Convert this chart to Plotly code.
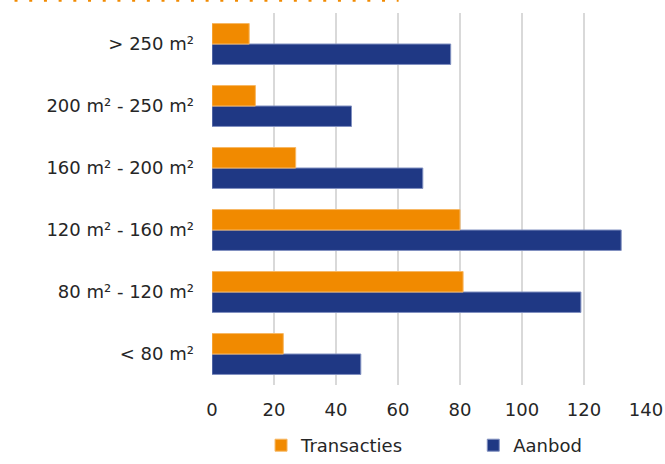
import plotly.graph_objects as go

categories = ["< 80 m²", "80 m² - 120 m²", "120 m² - 160 m²", "160 m² - 200 m²", "200 m² - 250 m²", "> 250 m²"]
transacties = [23, 81, 80, 27, 14, 12]
aanbod = [48, 119, 132, 68, 45, 77]
x_ticks = [0, 20, 40, 60, 80, 100, 120, 140]

ORANGE = "#F18A00"
BLUE = "#1F3884"
FONT = "DejaVu Sans"
TEXT = "#262626"
FS = 18

fig = go.Figure()
fig.add_trace(go.Bar(
    y=categories, x=aanbod, name="Aanbod", orientation="h", legend="legend2",
    marker=dict(color=BLUE, line=dict(color="#8190c0", width=1)),
))
fig.add_trace(go.Bar(
    y=categories, x=transacties, name="Transacties", orientation="h", legend="legend",
    marker=dict(color=ORANGE, line=dict(color="#f7b865", width=1)),
))

fig.update_layout(
    width=665, height=464,
    margin=dict(l=212, r=19, t=13, b=79, autoexpand=False),
    paper_bgcolor="white", plot_bgcolor="white",
    barmode="group", bargap=0.34, bargroupgap=0,
    font=dict(family=FONT, size=FS, color=TEXT),
    showlegend=True,
    legend=dict(orientation="h", x=0.113, xanchor="left", yref="container", y=-0.01, yanchor="bottom",
                font=dict(family=FONT, size=FS, color=TEXT), itemwidth=30, borderwidth=0),
    legend2=dict(orientation="h", x=0.602, xanchor="left", yref="container", y=-0.01, yanchor="bottom",
                 font=dict(family=FONT, size=FS, color=TEXT), itemwidth=30, borderwidth=0),
    xaxis=dict(range=[0, 140], tickvals=x_ticks, showgrid=True, gridcolor="#d9d9d9",
               gridwidth=2, zeroline=False, showline=False, ticks="",
               ticklabelstandoff=12, tickfont=dict(family=FONT, size=FS, color=TEXT),
               fixedrange=True),
    yaxis=dict(showgrid=False, zeroline=False, showline=False, ticks="",
               ticklabelstandoff=17, tickfont=dict(family=FONT, size=FS, color=TEXT),
               fixedrange=True),
    shapes=[dict(type="line", xref="paper", yref="paper",
                 x0=-0.455, x1=0.43, y0=1.034, y1=1.034,
                 line=dict(color=ORANGE, width=3, dash="3px,11.7px"))],
)

fig.write_html("out.html")
